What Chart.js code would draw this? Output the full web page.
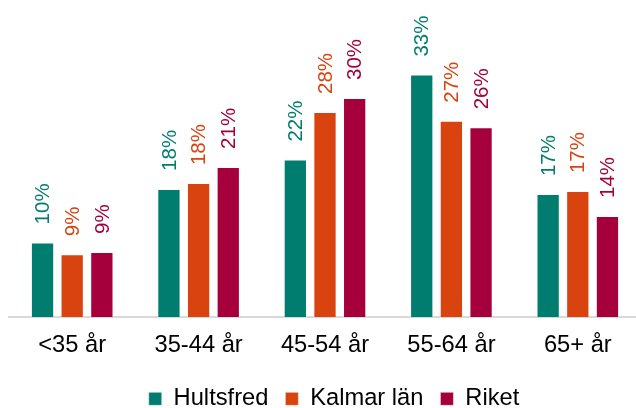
<!DOCTYPE html>
<html>
<head>
<meta charset="utf-8">
<script src="https://cdn.jsdelivr.net/npm/chart.js@4.4.1/dist/chart.umd.min.js"></script>
<style>
  html, body { margin: 0; padding: 0; background: #fff; overflow: hidden; }
  #wrap { width: 650px; height: 408px; }
</style>
</head>
<body>
<div id="wrap"><canvas id="chart"></canvas></div>
<script>
// data
const categories = ['<35 år', '35-44 år', '45-54 år', '55-64 år', '65+ år'];
const seriesNames = ['Hultsfred', 'Kalmar län', 'Riket'];
const hultsfred = [10.2, 17.5, 21.5, 33.1, 16.8];
const kalmar = [8.6, 18.3, 28.0, 26.8, 17.2];
const riket = [8.9, 20.5, 29.9, 25.9, 13.8];
const colors = ['#007D6E', '#D9430F', '#A6003C'];

const FONT = 'Arial, "Liberation Sans", sans-serif';

// etiketter ovanför staplarna, roterade
const barLabels = {
    id: 'barLabels',
    afterDatasetsDraw(chart) {
        const ctx = chart.ctx;
        ctx.save();
        ctx.font = '20.5px ' + FONT;
        chart.data.datasets.forEach((ds, i) => {
            chart.getDatasetMeta(i).data.forEach((bar, j) => {
                ctx.save();
                ctx.translate(bar.x + 1, bar.y - 18);
                ctx.rotate(-Math.PI / 2);
                ctx.fillStyle = colors[i];
                ctx.textAlign = 'left';
                ctx.textBaseline = 'middle';
                ctx.fillText(Math.round(ds.data[j]) + '%', 0, 0);
                ctx.restore();
            });
        });
        ctx.restore();
    }
};

// flytta legenden lite åt höger
const legendShift = {
    id: 'legendShift',
    afterLayout(chart) {
        if (chart.legend) {
            chart.legend.left += 9;
            chart.legend.right += 9;
        }
    }
};

const series = [hultsfred, kalmar, riket];

new Chart(document.getElementById('chart'), {
    type: 'bar',
    data: {
        labels: categories,
        datasets: series.map((data, i) => ({
            label: seriesNames[i],
            data,
            backgroundColor: colors[i],
            borderColor: 'rgba(255,255,255,0.45)',
            borderWidth: 1,
            categoryPercentage: 0.704,
            barPercentage: 0.785
        }))
    },
    options: {
        responsive: true,
        maintainAspectRatio: false,
        animation: false,
        layout: { padding: { top: 24, left: 9, right: 9, bottom: -12.7 } },
        scales: {
            x: {
                grid: { display: false },
                border: { display: true, color: '#d9d9d9', width: 2 },
                ticks: { color: '#000', font: { family: FONT, size: 23.7 }, padding: 5.6 }
            },
            y: { display: false, min: 0, max: 40 }
        },
        plugins: {
            legend: {
                position: 'bottom',
                title: { display: true, text: '', font: { size: 1 }, padding: { top: 2, bottom: 2 } },
                labels: {
                    color: '#000',
                    font: { family: FONT, size: 23.7 },
                    boxWidth: 13,
                    boxHeight: 13,
                    padding: 17
                }
            },
            tooltip: { enabled: false }
        }
    },
    plugins: [barLabels, legendShift]
});
</script>
</body>
</html>
